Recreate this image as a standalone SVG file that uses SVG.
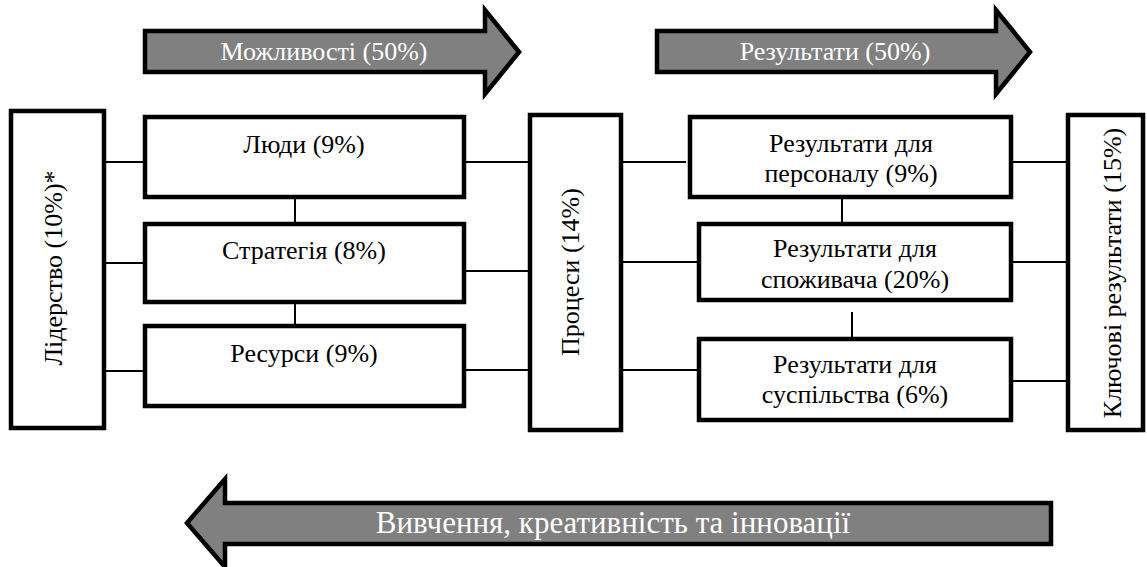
<svg xmlns="http://www.w3.org/2000/svg" width="1147" height="567" viewBox="0 0 1147 567">
<style>
.box{fill:#fff;stroke:#000;stroke-width:4.5}
.arrow{fill:#808080;stroke:#000;stroke-width:4.5;stroke-linejoin:miter;stroke-miterlimit:10}
.con{stroke:#000;stroke-width:2;fill:none}
.t{font-family:'Liberation Serif',serif;font-size:26px;fill:#000;text-anchor:middle}
.w{fill:#fff}
</style>
<rect width="1147" height="567" fill="#fff"/>
<g id="arrow-mozhlyvosti">
<polygon class="arrow" points="145,31 485,31 485,10 519,52 485,94 485,72 145,72"/>
<text class="t w" x="324" y="60">Можливості (50%)</text>
</g>
<g id="arrow-rezultaty">
<polygon class="arrow" points="657,31 996,31 996,10 1030,52 996,94 996,72 657,72"/>
<text class="t w" x="835" y="60">Результати (50%)</text>
</g>
<g id="arrow-vyvchennia">
<polygon class="arrow" points="1051,503 225,503 225,479 187,523 225,567 225,544 1051,544"/>
<text class="t w" x="613" y="533" style="font-size:31px">Вивчення, креативність та інновації</text>
</g>
<g id="connectors">
<line class="con" x1="106" y1="162" x2="145" y2="162"/>
<line class="con" x1="106" y1="263" x2="145" y2="263"/>
<line class="con" x1="106" y1="371" x2="145" y2="371"/>
<line class="con" x1="295" y1="199" x2="295" y2="224"/>
<line class="con" x1="295" y1="300" x2="295" y2="326"/>
<line class="con" x1="466" y1="162" x2="530" y2="162"/>
<line class="con" x1="466" y1="271" x2="530" y2="271"/>
<line class="con" x1="466" y1="370" x2="530" y2="370"/>
<line class="con" x1="621" y1="162" x2="686" y2="162"/>
<line class="con" x1="621" y1="262" x2="699" y2="262"/>
<line class="con" x1="621" y1="370" x2="699" y2="370"/>
<line class="con" x1="842" y1="199" x2="842" y2="224"/>
<line class="con" x1="852" y1="312" x2="852" y2="339"/>
<line class="con" x1="1011" y1="162" x2="1068" y2="162"/>
<line class="con" x1="1011" y1="262" x2="1068" y2="262"/>
<line class="con" x1="1011" y1="381" x2="1068" y2="381"/>
</g>
<g id="node-liderstvo">
<rect class="box" x="11" y="111" width="93" height="317"/>
<text class="t" transform="translate(62,268) rotate(-90)">Лідерство (10%)*</text>
</g>
<g id="node-liudy">
<rect class="box" x="145" y="117" width="319" height="80"/>
<text class="t" x="304" y="153">Люди (9%)</text>
</g>
<g id="node-stratehiia">
<rect class="box" x="145" y="224" width="319" height="78"/>
<text class="t" x="304" y="259">Стратегія (8%)</text>
</g>
<g id="node-resursy">
<rect class="box" x="145" y="326" width="319" height="80"/>
<text class="t" x="304" y="362">Ресурси (9%)</text>
</g>
<g id="node-protsesy">
<rect class="box" x="530" y="115" width="91" height="315"/>
<text class="t" transform="translate(579,272) rotate(-90)">Процеси (14%)</text>
</g>
<g id="node-personal">
<rect class="box" x="690" y="117" width="321" height="80"/>
<text class="t" x="851" y="152">Результати для</text>
<text class="t" x="851" y="182">персоналу (9%)</text>
</g>
<g id="node-spozhyvach">
<rect class="box" x="699" y="224" width="312" height="76"/>
<text class="t" x="855" y="257">Результати для</text>
<text class="t" x="855" y="288">споживача (20%)</text>
</g>
<g id="node-suspilstvo">
<rect class="box" x="699" y="339" width="312" height="81"/>
<text class="t" x="855" y="373">Результати для</text>
<text class="t" x="855" y="403">суспільства (6%)</text>
</g>
<g id="node-kliuchovi">
<rect class="box" x="1068" y="115" width="75" height="315"/>
<text class="t" transform="translate(1121,273) rotate(-90)">Ключові результати (15%)</text>
</g>
</svg>
